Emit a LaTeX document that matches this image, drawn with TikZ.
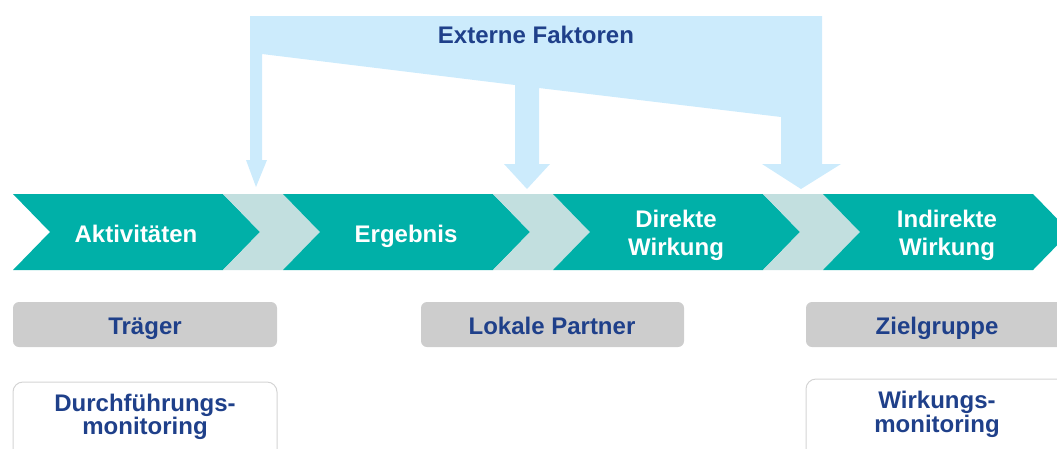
\documentclass[tikz,border=0pt]{standalone}
\usepackage{fontspec}
\setmainfont{Liberation Sans}
\definecolor{teal1}{RGB}{0,176,168}
\definecolor{pale}{RGB}{194,223,223}
\definecolor{skyb}{RGB}{204,235,252}
\definecolor{navy}{RGB}{31,64,138}
\definecolor{boxgray}{RGB}{205,205,205}
\definecolor{rimgray}{RGB}{212,212,212}
\tikzset{
  wtext/.style={text=white,font=\fontsize{24}{28}\selectfont\bfseries,inner sep=0pt,anchor=base},
  btext/.style={text=navy,font=\fontsize{24}{28}\selectfont\bfseries,inner sep=0pt,anchor=base},
  roleb/.style={fill=boxgray,draw=none,rounded corners=6pt},
  monb/.style={fill=white,draw=rimgray,line width=1pt,rounded corners=10pt},
}
\begin{document}
\begin{tikzpicture}[x=1pt,y=-1pt]
\useasboundingbox (0,0) rectangle (1057,448);
\clip (0,0) rectangle (1057,448);
% external factors shape
\fill[skyb] (250,16) -- (822,16) -- (822,164) -- (841,164) -- (801,189) -- (762,164)
  -- (781,164) -- (781,117) -- (539,88) -- (539,164) -- (550,164) -- (527,189)
  -- (504,164) -- (515,164) -- (515,85) -- (262,54) -- (262,160) -- (267,160)
  -- (256,187) -- (246,160) -- (250,160) -- cycle;
\node[btext] (ext) at (536,43) {Externe Faktoren};
% chevron band
\fill[teal1] (13,194) -- (223,194) -- (260,232) -- (223,270) -- (13,270) -- (50,232) -- cycle;
\fill[pale] (223,194) -- (283,194) -- (320,232) -- (283,270) -- (223,270) -- (260,232) -- cycle;
\fill[teal1] (283,194) -- (493,194) -- (530,232) -- (493,270) -- (283,270) -- (320,232) -- cycle;
\fill[pale] (493,194) -- (553,194) -- (590,232) -- (553,270) -- (493,270) -- (530,232) -- cycle;
\fill[teal1] (553,194) -- (763,194) -- (800,232) -- (763,270) -- (553,270) -- (590,232) -- cycle;
\fill[pale] (763,194) -- (823,194) -- (860,232) -- (823,270) -- (763,270) -- (800,232) -- cycle;
\fill[teal1] (823,194) -- (1033,194) -- (1070,232) -- (1033,270) -- (823,270) -- (860,232) -- cycle;
\node[wtext] (akt) at (136,242) {Aktivitäten};
\node[wtext] (erg) at (406,242) {Ergebnis};
\node[wtext] (dw1) at (676,227) {Direkte};
\node[wtext] (dw2) at (676,255) {Wirkung};
\node[wtext] (iw1) at (947,227) {Indirekte};
\node[wtext] (iw2) at (947,255) {Wirkung};
% role boxes
\path[roleb] (13,302) rectangle (277,347);
\path[roleb] (421,302) rectangle (684,347);
\path[roleb] (806,302) rectangle (1070,347);
\node[btext] (tr) at (145,334) {Träger};
\node[btext] (lp) at (552,334) {Lokale Partner};
\node[btext] (zg) at (937,334) {Zielgruppe};
% monitoring boxes
\path[monb] (13,382) rectangle (277,470);
\path[monb] (806,379) rectangle (1070,470);
\node[btext] (dm1) at (145,411) {Durchführungs-};
\node[btext] (dm2) at (145,434) {monitoring};
\node[btext] (wm1) at (937,408) {Wirkungs-};
\node[btext] (wm2) at (937,432) {monitoring};
\end{tikzpicture}
\end{document}
